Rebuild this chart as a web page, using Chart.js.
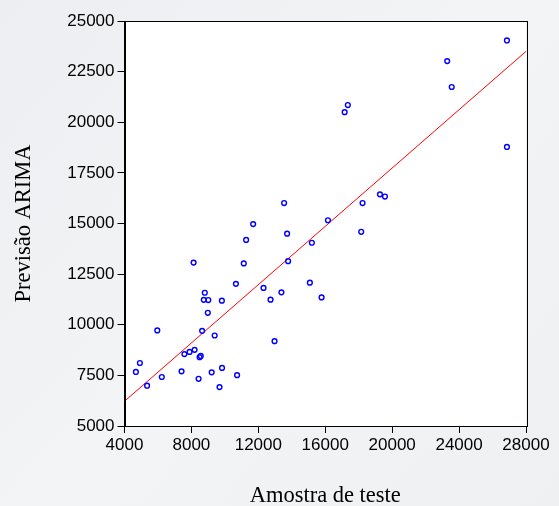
<!DOCTYPE html>
<html>
<head>
<meta charset="utf-8">
<script src="https://cdn.jsdelivr.net/npm/chart.js@4/dist/chart.umd.min.js"></script>
<style>
html,body{margin:0;padding:0;background:#f1f2f4;}
#wrap{width:559px;height:506px;position:relative;}
</style>
</head>
<body>
<div id="wrap"><canvas id="c" width="559" height="506"></canvas></div>
<script>
// Amostra de teste (x) vs Previsão ARIMA (y)
const amostraTeste = [4680,4920,5350,5960,6230,7410,7580,7890,8190,8490,8560,8430,8640,8800,8740,9010,8980,9390,9210,9820,9830,9680,10730,8130,11130,10660,11270,11690,12310,12730,13380,12970,13540,13720,13780,15080,15200,15780,16160,18150,18230,19270,19570,17160,17350,23290,23560,26860,26860];
const previsaoArima = [7670,8110,6990,9720,7420,7700,8550,8660,8760,8400,8460,7330,9700,11580,11230,11220,10590,9470,7650,11190,7870,6920,7510,13070,13030,12020,14190,14970,11820,11240,11600,9190,16010,14500,13140,12080,14050,11350,15160,14590,16010,16440,16330,20500,20850,23020,21740,24040,18780];
// fitted line endpoints (x, y)
const fitX = [4000, 28000];
const fitY = [6220, 23500];
const xTicks = [4000, 8000, 12000, 16000, 20000, 24000, 28000];
const yTicks = [5000, 7500, 10000, 12500, 15000, 17500, 20000, 22500, 25000];

const scatterData = amostraTeste.map((x, i) => ({x: x, y: previsaoArima[i]}));
const lineData = fitX.map((x, i) => ({x: x, y: fitY[i]}));

const bgPlugin = {
  id: 'bg',
  beforeDraw(chart) {
    const ctx = chart.ctx;
    const g = ctx.createLinearGradient(0, 0, 559, 506);
    g.addColorStop(0, '#eceef1');
    g.addColorStop(0.5, '#f3f4f6');
    g.addColorStop(1, '#eef0f2');
    ctx.save();
    ctx.fillStyle = g;
    ctx.fillRect(0, 0, chart.width, chart.height);
    const a = chart.chartArea;
    ctx.fillStyle = '#ffffff';
    ctx.fillRect(a.left, a.top, a.right - a.left, a.bottom - a.top);
    ctx.restore();
  },
  afterDraw(chart) {
    const ctx = chart.ctx;
    const a = chart.chartArea;
    ctx.save();
    ctx.strokeStyle = '#000';
    ctx.lineWidth = 1;
    ctx.strokeRect(Math.round(a.left) + 0.5, Math.round(a.top) + 0.5, Math.round(a.right - a.left), Math.round(a.bottom - a.top));
    ctx.restore();
  }
};

const tickFont = {family: '"Liberation Sans", Arial, sans-serif', size: 17};
const titleFont = {family: '"Liberation Serif", "Times New Roman", serif', size: 22.5};

new Chart(document.getElementById('c'), {
  type: 'scatter',
  data: {
    datasets: [
      {
        type: 'line',
        data: lineData,
        borderColor: '#ff0000',
        borderWidth: 1,
        pointRadius: 0,
        fill: false,
        order: 2
      },
      {
        data: scatterData,
        borderColor: '#0000ff',
        backgroundColor: 'rgba(255,255,255,0)',
        borderWidth: 1.4,
        pointRadius: 2.4,
        pointHoverRadius: 2.4,
        order: 1
      }
    ]
  },
  options: {
    responsive: false,
    animation: false,
    events: [],
    layout: {padding: {top: 21, right: 33, left: 0, bottom: 0}},
    plugins: {legend: {display: false}, tooltip: {enabled: false}},
    scales: {
      x: {
        type: 'linear',
        min: 4000, max: 28000,
        afterBuildTicks(scale) { scale.ticks = xTicks.map(v => ({value: v})); },
        afterFit(scale) { scale.height = 80; },
        grid: {drawOnChartArea: false, drawTicks: true, tickLength: 7, color: '#000'},
        border: {display: true, color: '#000'},
        ticks: {color: '#000', font: tickFont, padding: 2, maxRotation: 0, autoSkip: false,
          callback: v => String(v)},
        title: {display: true, text: 'Amostra de teste', color: '#000', font: titleFont, padding: {top: 30, bottom: -4}}
      },
      y: {
        type: 'linear',
        min: 5000, max: 25000,
        afterBuildTicks(scale) { scale.ticks = yTicks.map(v => ({value: v})); },
        afterFit(scale) { scale.width = 124.5; },
        grid: {drawOnChartArea: false, drawTicks: true, tickLength: 7, color: '#000'},
        border: {display: true, color: '#000'},
        ticks: {color: '#000', font: tickFont, padding: 3, autoSkip: false,
          callback: v => String(v)},
        title: {display: true, text: 'Previsão ARIMA', color: '#000', font: titleFont, padding: {top: 11, bottom: 0}}
      }
    }
  },
  plugins: [bgPlugin]
});
</script>
</body>
</html>
